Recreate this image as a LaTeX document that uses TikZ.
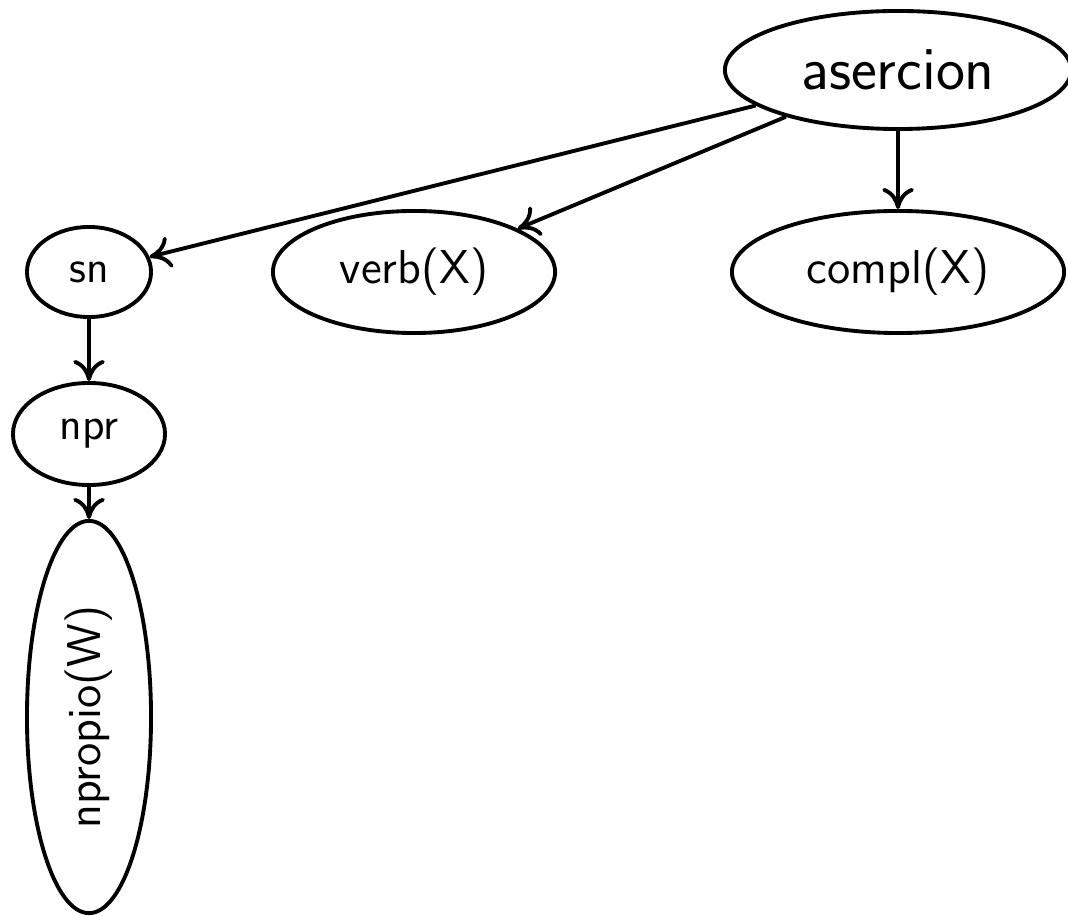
\documentclass[tikz,border=0pt]{standalone}
\usepackage{tikz}
\usetikzlibrary{arrows.meta, shapes.geometric, positioning}

\begin{document}
\begin{tikzpicture}[x=0.01cm, y=0.01cm,
    nodo/.style={draw, ellipse, line width=1.1pt, inner sep=0pt, font=\sffamily\fontsize{13.5}{16}\selectfont},
    flecha/.style={line width=1.1pt, -{To[length=6pt,width=9pt]}}]

\useasboundingbox (0,0) rectangle (1068,915);

\node[nodo, minimum width=3.46cm, minimum height=1.18cm, font=\sffamily\fontsize{17.5}{21}\selectfont] (asercion) at (898,845) {asercion};

\node[nodo, minimum width=1.24cm, minimum height=0.90cm, font=\sffamily\fontsize{12.8}{15}\selectfont] (sn) at (89,643) {sn};
\node[nodo, minimum width=2.82cm, minimum height=1.22cm] (verb) at (414,643) {verb(X)};
\node[nodo, minimum width=3.32cm, minimum height=1.22cm] (compl) at (898,643) {compl(X)};

\node[nodo, minimum width=1.52cm, minimum height=1.02cm, font=\sffamily\fontsize{12.8}{15}\selectfont] (npr) at (89,481) {npr};
\node[nodo, minimum width=3.92cm, minimum height=1.24cm, rotate=90] (npropio) at (89,198) {npropio(W)};

\foreach \a/\b in {asercion/sn, asercion/verb, asercion/compl, sn/npr, npr/npropio}{
    \draw[flecha] (\a) -- (\b);
};

\end{tikzpicture}
\end{document}
